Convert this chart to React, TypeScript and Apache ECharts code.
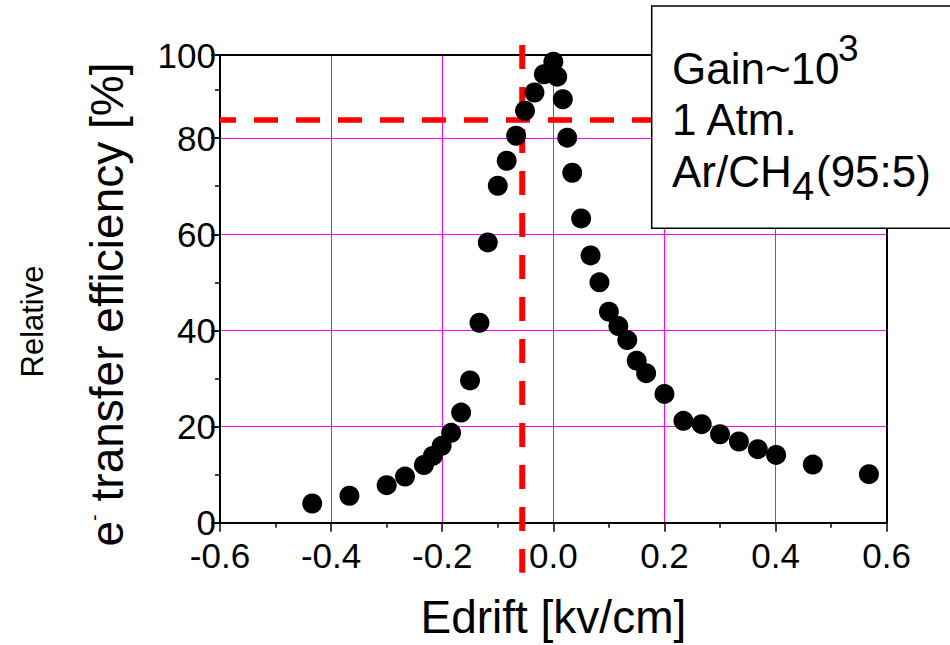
import React, { useEffect, useRef } from 'react';
import * as echarts from 'echarts';

// Drift field [kV/cm]
const driftField = [
  -0.434, -0.367, -0.300, -0.267, -0.233, -0.217, -0.201, -0.184, -0.166, -0.150,
  -0.133, -0.118, -0.100, -0.084, -0.067, -0.051, -0.034, -0.017, 0.000, 0.007,
  0.017, 0.025, 0.034, 0.050, 0.067, 0.083, 0.100, 0.117, 0.133, 0.150,
  0.167, 0.200, 0.234, 0.267, 0.300, 0.334, 0.368, 0.401, 0.467, 0.568,
];
// Relative e- transfer efficiency [%]
const efficiency = [
  4.0, 5.6, 7.8, 9.6, 12.0, 13.9, 16.0, 18.7, 22.9, 29.6,
  41.6, 58.3, 70.1, 75.3, 80.5, 85.7, 89.5, 93.3, 95.9, 92.8,
  88.1, 80.1, 72.8, 63.3, 55.6, 50.0, 43.9, 40.9, 38.0, 33.7,
  31.1, 26.8, 21.2, 20.5, 18.4, 16.9, 15.3, 14.1, 12.1, 10.1,
];

const X_MIN = -0.6;
const X_MAX = 0.6;
const X_STEP = 0.2;
const Y_MIN = 0;
const Y_MAX = 97.3;
const Y_STEP = 20;
const yTickLabels = ['0', '20', '40', '60', '80', '100'];

// Red dashed guide lines
const guideField = -0.056;
const guideEfficiency = 83.8;

const FONT = '"Liberation Sans", Arial, Helvetica, sans-serif';

export default function App() {
  const ref = useRef<HTMLDivElement>(null);

  useEffect(() => {
    const el = ref.current as HTMLDivElement;
    const chart = echarts.init(el, null, { renderer: 'svg' });
    const data = driftField.map((x, i) => [x, efficiency[i]]);

    chart.setOption({
      animation: false,
      backgroundColor: '#ffffff',
      grid: { left: 220, right: 63.3, top: 55, bottom: 122.3, containLabel: false },
      xAxis: [
        {
          type: 'value',
          min: X_MIN,
          max: X_MAX,
          interval: X_STEP,
          position: 'bottom',
          name: 'Edrift [kv/cm]',
          nameLocation: 'middle',
          nameGap: 71,
          nameTextStyle: { fontSize: 46, color: '#000', fontFamily: FONT },
          axisLine: { show: true, onZero: false, lineStyle: { color: '#000', width: 2 } },
          axisTick: { show: true, inside: false, length: 9, lineStyle: { color: '#000', width: 1.5 } },
          minorTick: { show: true, splitNumber: 2, length: 5, lineStyle: { color: '#000', width: 1.5 } },
          axisLabel: {
            margin: 17.5,
            fontSize: 35,
            lineHeight: 30,
            color: '#000',
            fontFamily: FONT,
            formatter: (v: number) => (Math.abs(v) < 1e-9 ? '0.0' : v.toFixed(1)),
          },
          splitLine: {
            show: true,
            showMinLine: false,
            showMaxLine: false,
            lineStyle: { color: '#ff00ff', width: 1 },
          },
        },
        {
          type: 'value',
          min: X_MIN,
          max: X_MAX,
          position: 'top',
          axisLine: { show: true, onZero: false, lineStyle: { color: '#000', width: 2 } },
          axisTick: { show: false },
          axisLabel: { show: false },
          splitLine: { show: false },
        },
      ],
      yAxis: [
        {
          type: 'value',
          min: Y_MIN,
          max: Y_MAX,
          interval: Y_STEP,
          position: 'left',
          axisLine: { show: true, onZero: false, lineStyle: { color: '#000', width: 2 } },
          axisTick: { show: true, inside: false, length: 9, lineStyle: { color: '#000', width: 1.5 } },
          axisLabel: {
            margin: 4,
            fontSize: 35,
            lineHeight: 28,
            padding: [0, 0, 4, 0],
            color: '#000',
            fontFamily: FONT,
            formatter: (_v: number, i: number) => yTickLabels[i] ?? '',
          },
          splitLine: {
            show: true,
            showMinLine: false,
            showMaxLine: false,
            lineStyle: { color: '#ff00ff', width: 1 },
          },
        },
        {
          type: 'value',
          min: Y_MIN,
          max: Y_MAX,
          interval: 10,
          position: 'left',
          offset: 0,
          axisLine: { show: false, onZero: false },
          axisTick: { show: true, inside: false, length: 5, lineStyle: { color: '#000', width: 1.5 } },
          axisLabel: { show: false },
          splitLine: { show: false },
        },
        {
          type: 'value',
          min: Y_MIN,
          max: Y_MAX,
          position: 'right',
          axisLine: { show: true, onZero: false, lineStyle: { color: '#000', width: 2 } },
          axisTick: { show: false },
          axisLabel: { show: false },
          splitLine: { show: false },
        },
      ],
      series: [
        {
          type: 'scatter',
          xAxisIndex: 0,
          yAxisIndex: 0,
          data,
          symbol: 'circle',
          symbolSize: 20,
          itemStyle: { color: '#000', opacity: 1 },
          z: 5,
        },
      ],
    });

    const [xv, yh] = chart.convertToPixel({ seriesIndex: 0 }, [guideField, guideEfficiency]) as number[];
    const [xl, yb] = chart.convertToPixel({ seriesIndex: 0 }, [X_MIN, Y_MIN]) as number[];
    const [xr, yt] = chart.convertToPixel({ seriesIndex: 0 }, [X_MAX, Y_MAX]) as number[];

    chart.setOption({
      graphic: [
        {
          type: 'line',
          z: 3,
          shape: { x1: xl, y1: yh, x2: xr, y2: yh },
          style: { stroke: '#ff0000', lineWidth: 5.5, lineDash: [24, 18], lineDashOffset: 8 },
        },
        {
          type: 'line',
          z: 3,
          shape: { x1: xv, y1: yt - 10, x2: xv, y2: yb + 50 },
          style: { stroke: '#ff0000', lineWidth: 6, lineDash: [24, 18] },
        },
        {
          type: 'text',
          x: 130,
          y: 304.5,
          rotation: Math.PI / 2,
          style: {
            text: '{e|e}{s|-}{t| transfer efficiency [%]}',
            align: 'center',
            verticalAlign: 'bottom',
            rich: {
              e: { fontSize: 46, fontFamily: FONT, fill: '#000' },
              s: { fontSize: 20, fontFamily: FONT, fill: '#000', verticalAlign: 'top' },
              t: { fontSize: 46, fontFamily: FONT, fill: '#000' },
            },
          },
        },
        {
          type: 'text',
          x: 47.8,
          y: 321.5,
          rotation: Math.PI / 2,
          style: {
            text: 'Relative',
            fontSize: 31,
            fontFamily: FONT,
            fill: '#000',
            align: 'center',
            verticalAlign: 'bottom',
          },
        },
        {
          type: 'rect',
          z: 10,
          shape: { x: 651.7, y: 6, width: 330, height: 222.3 },
          style: { fill: '#ffffff', stroke: '#000', lineWidth: 1.5 },
        },
        {
          type: 'text', z: 11, x: 672, y: 68.1,
          style: { text: 'Gain~10', fontSize: 44, fontFamily: FONT, fill: '#000', align: 'left', verticalAlign: 'middle' },
        },
        {
          type: 'text', z: 11, x: 838, y: 48.9,
          style: { text: '3', fontSize: 37, fontFamily: FONT, fill: '#000', align: 'left', verticalAlign: 'middle' },
        },
        {
          type: 'text', z: 11, x: 672, y: 119.8,
          style: { text: '1 Atm.', fontSize: 44, fontFamily: FONT, fill: '#000', align: 'left', verticalAlign: 'middle' },
        },
        {
          type: 'text', z: 11, x: 672, y: 171.5,
          style: { text: 'Ar/CH', fontSize: 44, fontFamily: FONT, fill: '#000', align: 'left', verticalAlign: 'middle' },
        },
        {
          type: 'text', z: 11, x: 792, y: 186.1,
          style: { text: '4', fontSize: 40, fontFamily: FONT, fill: '#000', align: 'left', verticalAlign: 'middle' },
        },
        {
          type: 'text', z: 11, x: 816, y: 171.5,
          style: { text: '(95:5)', fontSize: 44, fontFamily: FONT, fill: '#000', align: 'left', verticalAlign: 'middle' },
        },
      ],
    });

    return () => {
      chart.dispose();
    };
  }, []);

  return (
    <div
      ref={ref}
      style={{ position: 'absolute', left: 0, top: 0, width: 950, height: 645, background: '#fff' }}
    />
  );
}
